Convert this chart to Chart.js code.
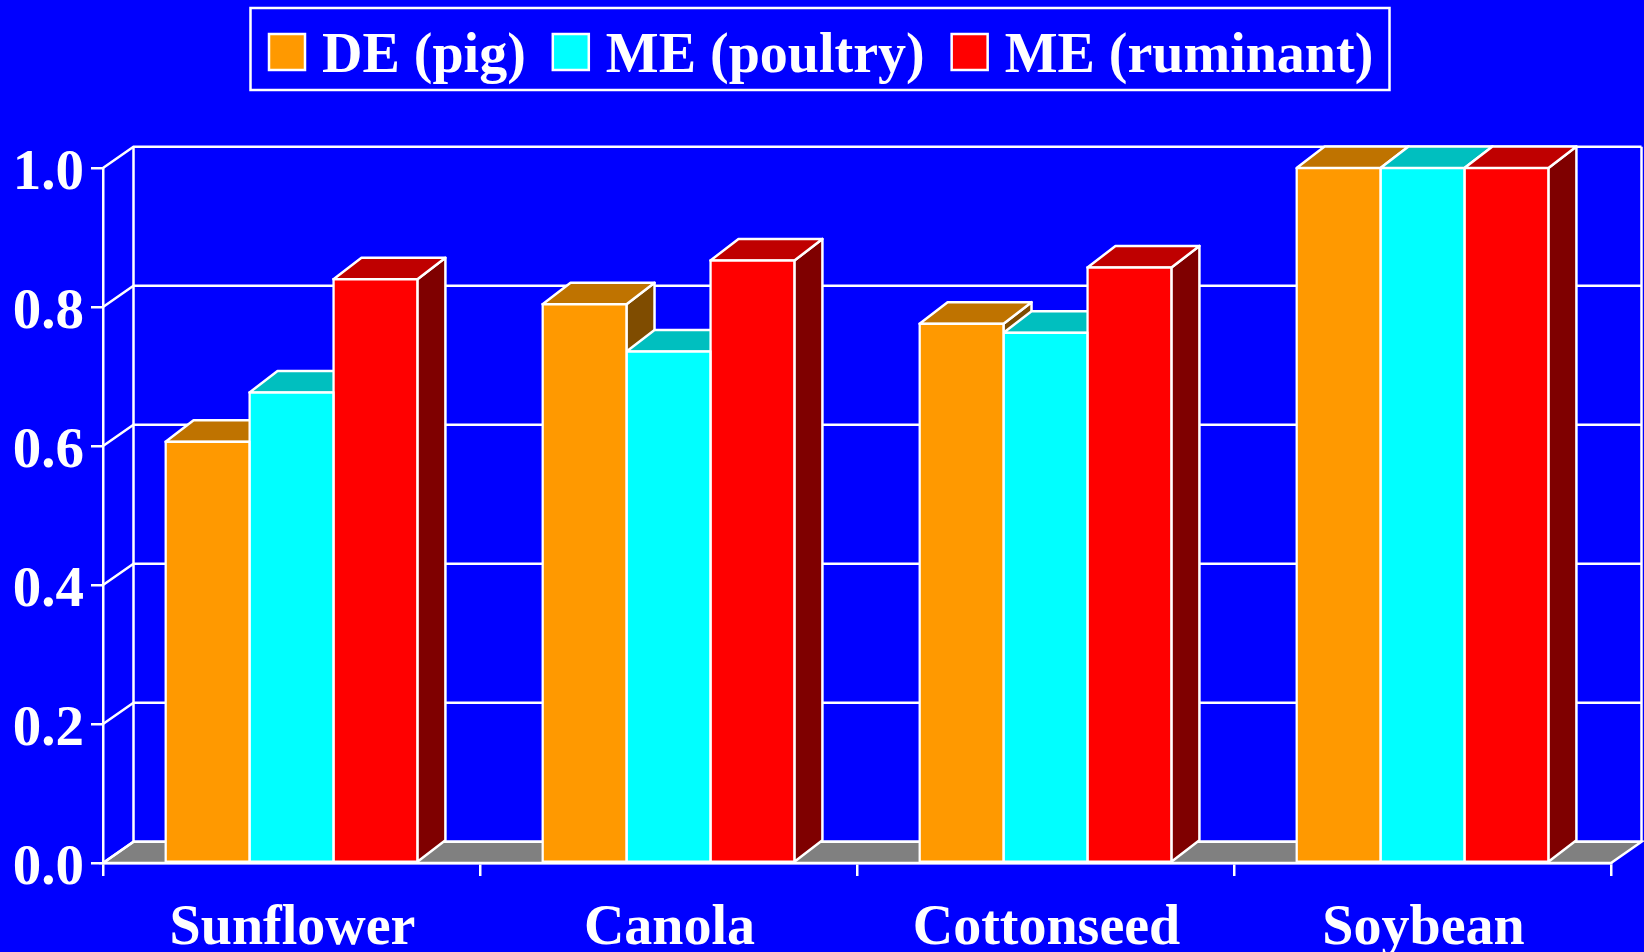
<!DOCTYPE html>
<html>
<head>
<meta charset="utf-8">
<title>Relative energy value of oilseed meals</title>
<script src="https://cdn.jsdelivr.net/npm/chart.js@4"></script>
<style>
    html, body { margin: 0; padding: 0; background: #0000ff; overflow: hidden; }
    canvas { display: block; }
</style>
</head>
<body>
<canvas id="chart" width="1644" height="952"></canvas>
<script>
const categories = ['Sunflower', 'Canola', 'Cottonseed', 'Soybean'];
const dePig = [0.606, 0.804, 0.776, 1.0];
const mePoultry = [0.677, 0.736, 0.763, 1.0];
const meRuminant = [0.84, 0.867, 0.857, 1.0];

const white = '#ffffff';
const font = '"Liberation Serif", "Times New Roman", serif';
const strokeWidth = 2.5;

// face colours per series: front, top, side
const faces = [
    { front: '#ff9900', top: '#bf7300', side: '#7f4c00' },
    { front: '#00ffff', top: '#00bfbf', side: '#007f7f' },
    { front: '#ff0000', top: '#bf0000', side: '#7f0000' },
];

function polygon(ctx, pts, fill) {
    ctx.beginPath();
    pts.forEach((p, i) => (i ? ctx.lineTo(p[0], p[1]) : ctx.moveTo(p[0], p[1])));
    ctx.closePath();
    if (fill) {
        ctx.fillStyle = fill;
        ctx.fill();
    }
    ctx.stroke();
}

// back wall, side wall and floor behind the bars
const wallPlugin = {
    id: 'wall',
    beforeDatasetsDraw(chart) {
        const { ctx, chartArea: a, scales } = chart;
        const dx = 30.5, dy = 21.3;
        const y = scales.y;
        ctx.save();
        ctx.strokeStyle = white;
        ctx.lineWidth = strokeWidth;
        polygon(ctx, [
            [a.left, a.bottom], [a.right, a.bottom],
            [a.right + dx, a.bottom - dy], [a.left + dx, a.bottom - dy],
        ], '#808080');
        y.ticks.forEach(t => {
            const py = y.getPixelForValue(t.value);
            ctx.beginPath();
            ctx.moveTo(a.left, py);
            ctx.lineTo(a.left + dx, py - dy);
            ctx.lineTo(a.right + dx, py - dy);
            ctx.stroke();
        });
        ctx.beginPath();
        ctx.moveTo(a.left + dx, a.top - dy);
        ctx.lineTo(a.left + dx, a.bottom - dy);
        ctx.moveTo(a.right + dx, a.top - dy);
        ctx.lineTo(a.right + dx, a.bottom - dy);
        ctx.stroke();
        ctx.restore();
    },
};

// top and side faces, painted left to right so the front faces land over them
const depthPlugin = {
    id: 'depth',
    beforeDatasetsDraw(chart) {
        const { ctx } = chart;
        const dx = 28, dy = 21.5;
        ctx.save();
        ctx.strokeStyle = white;
        ctx.lineWidth = strokeWidth;
        ctx.lineJoin = 'round';
        chart.data.datasets.forEach((ds, i) => {
            chart.getDatasetMeta(i).data.forEach(bar => {
                const l = bar.x - bar.width / 2;
                const r = bar.x + bar.width / 2;
                polygon(ctx, [[r, bar.y], [r + dx, bar.y - dy], [r + dx, bar.base - dy], [r, bar.base]], faces[i].side);
                polygon(ctx, [[l, bar.y], [l + dx, bar.y - dy], [r + dx, bar.y - dy], [r, bar.y]], faces[i].top);
            });
        });
        ctx.restore();
    },
};

// boxed legend row above the plot
const legendPlugin = {
    id: 'boxLegend',
    afterDraw(chart) {
        const { ctx } = chart;
        const box = { x: 250.5, y: 8, w: 1139, h: 82 };
        const swatch = 36;
        ctx.save();
        ctx.strokeStyle = white;
        ctx.lineWidth = strokeWidth;
        ctx.strokeRect(box.x, box.y, box.w, box.h);
        ctx.font = 'bold 56px ' + font;
        ctx.textBaseline = 'alphabetic';
        ctx.textAlign = 'left';
        let x = 269;
        chart.data.datasets.forEach((ds, i) => {
            ctx.fillStyle = faces[i].front;
            ctx.fillRect(x, 34, swatch, swatch);
            ctx.strokeRect(x, 34, swatch, swatch);
            x += swatch + 17;
            ctx.fillStyle = white;
            ctx.fillText(ds.label, x, 72);
            x += ctx.measureText(ds.label).width + 27;
        });
        ctx.restore();
    },
};

function series(label, data, i) {
    return {
        label,
        data,
        backgroundColor: faces[i].front,
        borderColor: white,
        borderWidth: strokeWidth,
        borderSkipped: false,
        inflateAmount: strokeWidth / 2,
        barPercentage: 1,
        categoryPercentage: 0.668,
    };
}

new Chart(document.getElementById('chart').getContext('2d'), {
    type: 'bar',
    data: {
        labels: categories,
        datasets: [
            series('DE (pig)', dePig, 0),
            series('ME (poultry)', mePoultry, 1),
            series('ME (ruminant)', meRuminant, 2),
        ],
    },
    plugins: [wallPlugin, depthPlugin, legendPlugin],
    options: {
        responsive: false,
        animation: false,
        layout: { padding: { top: 168, right: 33, bottom: 0, left: 0 } },
        plugins: {
            legend: { display: false },
            tooltip: { enabled: false },
        },
        scales: {
            x: {
                afterFit: s => { s.height = 89; },
                grid: { drawOnChartArea: false, color: white, lineWidth: strokeWidth, tickLength: 13 },
                border: { color: white, width: strokeWidth },
                ticks: {
                    color: white,
                    padding: 20,
                    labelOffset: 1,
                    maxRotation: 0,
                    font: { family: font, size: 56, weight: 'bold' },
                },
            },
            y: {
                min: 0,
                max: 1,
                afterFit: s => { s.width = 103; },
                grid: { drawOnChartArea: false, color: white, lineWidth: strokeWidth, tickLength: 12 },
                border: { color: white, width: strokeWidth },
                ticks: {
                    stepSize: 0.2,
                    color: white,
                    padding: 7,
                    labelOffset: 6,
                    callback: v => v.toFixed(1),
                    font: { family: font, size: 57, weight: 'bold' },
                },
            },
        },
    },
});
</script>
</body>
</html>
